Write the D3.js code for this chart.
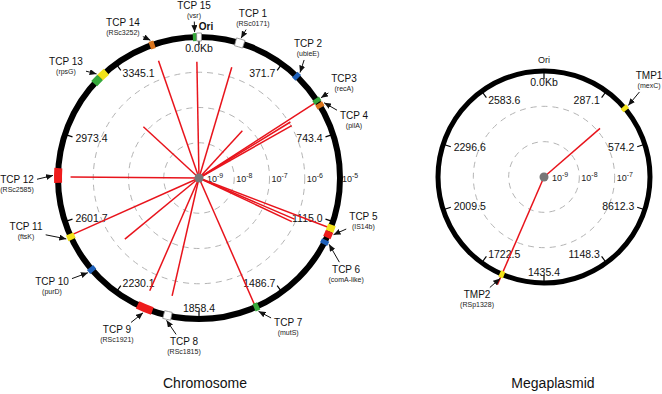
<!DOCTYPE html>
<html>
<head>
<meta charset="utf-8">
<script src="https://cdn.jsdelivr.net/npm/d3@7"></script>
<style>
  body { margin: 0; background: #fff; }
  svg { font-family: "Liberation Sans", Arial, sans-serif; }
</style>
</head>
<body>
<div id="chart"></div>
<script>
// ---------------- data ----------------
// chromosome (kb)
var chromLength = 3716.8;
var chromTicks = ["0.0Kb", "371.7", "743.4", "1115.0", "1486.7", "1858.4", "2230.1", "2601.7", "2973.4", "3345.1"];
var chromLinePos  = [3520, 3706, 170, 3228, 439, 590, 604, 625, 1145, 1189, 1170, 1614, 1991, 2102, 2380, 2539, 2792];
var chromLineFreq = [3.3e-6, 2.0e-6, 1.9e-6, 1.4e-7, 6.6e-8, 1.2e-5, 1.1e-6, 1.05e-6, 1.0e-5, 8.1e-7, 8.9e-7, 1.0e-5, 2.7e-6, 3.1e-6, 5.3e-7, 9.1e-6, 4.4e-6];
// coloured blocks on the ring
var chromSegStart = [155, 442, 576, 599, 1130, 1159, 1198, 1600, 1975, 2058, 2360, 2521, 2767, 3221, 3257, 3506, 3691, 3707];
var chromSegEnd   = [191, 462, 595, 619, 1159, 1187, 1218, 1621, 2008, 2125, 2381, 2546, 2829, 3257, 3293, 3527, 3707, 3727];
var chromSegKind  = ["white", "blue", "green", "orange", "yellow", "red", "blue", "green", "white", "red", "blue", "yellow", "red", "green", "yellow", "orange", "green", "white"];
// TCP annotations
var chromTcp  = ["TCP 1", "TCP 2", "TCP3", "TCP 4", "TCP 5", "TCP 6", "TCP 7", "TCP 8", "TCP 9", "TCP 10", "TCP 11", "TCP 12", "TCP 13", "TCP 14", "TCP 15"];
var chromGene = ["(RSc0171)", "(ubieE)", "(recA)", "(pilA)", "(IS14b)", "(comA-like)", "(mutS)", "(RSc1815)", "(RSc1921)", "(purD)", "(ftsK)", "(RSc2585)", "(rpsG)", "(RSc3252)", "(vsr)"];
var chromTcpPos = [173, 452, 585, 609, 1165, 1208, 1610, 1991, 2091, 2370, 2533, 2798, 3257, 3516, 3699];

// megaplasmid (kb)
var megaLength = 2870.8;
var megaTicks = ["0.0Kb", "287.1", "574.2", "8612.3", "1148.3", "1435.4", "1722.5", "2009.5", "2296.6", "2583.6"];
var megaLinePos  = [391, 1622];
var megaLineFreq = [1.26e-7, 2.1e-6];
var megaSegStart = [386, 1612];
var megaSegEnd   = [406, 1632];
var megaSegKind  = ["yellow", "yellow"];
var megaTcp  = ["TMP1", "TMP2"];
var megaGene = ["(mexC)", "(RSp1328)"];
var megaTcpPos = [396, 1622];

// ---------------- layout / style ----------------
var width = 662, height = 394;
var colors = {white: "#ffffff", blue: "#1d5fb8", green: "#35a83a", orange: "#d9741c", yellow: "#f2e21a", red: "#ee1c1c"};
// label placement (angle in degrees, radius in px) for the annotations
var chromLabelPlace = [[18.6, 169], [40, 169.6], [56.7, 173.5], [69.5, 165.5], [104.8, 170], [123.1, 175.6], [149.1, 173.6],
  [185.1, 168.7], [207.8, 176], [233.7, 182.4], [253, 180.9], [268.1, 182.1], [310.1, 173.9], [333.3, 169.2], [-1.7, 168.5]];
var megaLabelPlace = [[47.4, 142.7], [208.8, 139]];

var svg = d3.select("#chart")
  .append("svg")
  .attr("width", width)
  .attr("height", height);

svg.append("defs").append("marker")
  .attr("id", "arrow")
  .attr("viewBox", "0 -3 7 6")
  .attr("refX", 7)
  .attr("refY", 0)
  .attr("markerUnits", "userSpaceOnUse")
  .attr("markerWidth", 7)
  .attr("markerHeight", 6)
  .attr("orient", "auto")
  .append("path")
  .attr("d", "M0,-3L7,0L0,3Z")
  .attr("fill", "#111");

function pt(a, r) { return [r * Math.sin(a), -r * Math.cos(a)]; }

function drawGenome(opt) {
  var g = svg.append("g").attr("transform", "translate(" + opt.cx + "," + opt.cy + ")");
  var R = opt.R;
  var angle = d3.scaleLinear().domain([0, opt.length]).range([0, 2 * Math.PI]);
  var rad = d3.scaleLog().domain([1e-9, opt.maxFreq]).range([0, R]);
  var gridVals = d3.range(-9, Math.round(Math.log10(opt.maxFreq)) + 1).map(function(k) { return Math.pow(10, k); });

  // dashed grid circles
  g.selectAll("circle.grid")
    .data(gridVals.filter(function(v) { return rad(v) > 0 && rad(v) < R - 1; }))
    .enter().append("circle")
    .attr("r", function(v) { return rad(v); })
    .attr("fill", "none")
    .attr("stroke", "#b4b4b4")
    .attr("stroke-width", 1)
    .attr("stroke-dasharray", "6,5");

  // grid labels 10^k
  var gl = g.selectAll("text.glab")
    .data(gridVals.filter(function(v) { return opt.labelRing || rad(v) < R - 1; }))
    .enter().append("text")
    .attr("x", function(v) { return Math.max(rad(v), 6) + 2; })
    .attr("y", 3.5)
    .style("font-size", "9px")
    .attr("fill", "#222");
  gl.append("tspan").text("10");
  gl.append("tspan")
    .attr("dy", -4)
    .style("font-size", "7px")
    .text(function(v) { return Math.round(Math.log10(v)); });

  // ring
  g.append("circle")
    .attr("r", R)
    .attr("fill", "none")
    .attr("stroke", "#000")
    .attr("stroke-width", opt.ringW);

  // ticks and tick labels
  var tickKb = opt.ticks.map(function(t, i) { return i * opt.length / opt.ticks.length; });
  g.selectAll("line.tick")
    .data(tickKb)
    .enter().append("line")
    .attr("x1", function(d) { return pt(angle(d), R)[0]; })
    .attr("y1", function(d) { return pt(angle(d), R)[1]; })
    .attr("x2", function(d) { return pt(angle(d), R - 8)[0]; })
    .attr("y2", function(d) { return pt(angle(d), R - 8)[1]; })
    .attr("stroke", "#000")
    .attr("stroke-width", 1.2);
  g.selectAll("text.tlab")
    .data(opt.ticks)
    .enter().append("text")
    .attr("x", function(d, i) { return pt(angle(tickKb[i]), R - opt.labelIn)[0]; })
    .attr("y", function(d, i) { return pt(angle(tickKb[i]), R - opt.labelIn)[1]; })
    .attr("dy", "0.35em")
    .attr("text-anchor", function(d, i) {
      var deg = angle(tickKb[i]) * 180 / Math.PI;
      if (deg > 10 && deg < 170) return "end";
      if (deg > 190 && deg < 350) return "start";
      return "middle";
    })
    .style("font-size", "10.5px")
    .attr("fill", "#111")
    .text(function(d) { return d; });

  // red lines
  var lineData = opt.linePos.map(function(p, i) { return {pos: p, freq: opt.lineFreq[i]}; });
  g.selectAll("line.val")
    .data(lineData)
    .enter().append("line")
    .attr("x1", 0).attr("y1", 0)
    .attr("x2", function(d) { return pt(angle(d.pos), rad(d.freq))[0]; })
    .attr("y2", function(d) { return pt(angle(d.pos), rad(d.freq))[1]; })
    .attr("stroke", "#e8141c")
    .attr("stroke-width", 1.5);

  // coloured blocks on ring
  var arc = d3.arc().innerRadius(R - opt.segW).outerRadius(R + opt.segW);
  g.selectAll("path.seg")
    .data(opt.segStart.map(function(s, i) { return {s: s, e: opt.segEnd[i], k: opt.segKind[i]}; }))
    .enter().append("path")
    .attr("d", function(d) { return arc({startAngle: angle(d.s), endAngle: angle(d.e)}); })
    .attr("fill", function(d) { return colors[d.k]; })
    .attr("stroke", function(d) { return d.k == "white" ? "#888" : "none"; })
    .attr("stroke-width", 0.8);

  // centre dot
  g.append("circle").attr("r", 4.5).attr("fill", "#777");

  // annotations with arrows
  opt.tcp.forEach(function(name, i) {
    var la = opt.place[i][0] * Math.PI / 180, lr = opt.place[i][1];
    var c = pt(la, lr);
    var lg = g.append("g").attr("transform", "translate(" + c[0] + "," + c[1] + ")");
    lg.append("text")
      .attr("text-anchor", "middle")
      .attr("y", -1)
      .style("font-size", "10px")
      .attr("fill", "#111")
      .text(name);
    lg.append("text")
      .attr("text-anchor", "middle")
      .attr("y", 8)
      .style("font-size", "7px")
      .attr("fill", "#222")
      .text(opt.gene[i]);
    var bb = lg.node().getBBox();
    var hw = bb.width / 2 + 1, hh = bb.height / 2;
    var cyOff = bb.y + bb.height / 2;
    var p = pt(angle(opt.tcpPos[i]), R + opt.segW + 1);
    var vx = p[0] - c[0], vy = p[1] - (c[1] + cyOff);
    var t = Math.min(Math.abs(vx) > 0.01 ? hw / Math.abs(vx) : 99, Math.abs(vy) > 0.01 ? hh / Math.abs(vy) : 99);
    var len = Math.sqrt(vx * vx + vy * vy);
    var sx = c[0] + vx * t + vx / len * 2, sy = c[1] + cyOff + vy * t + vy / len * 2;
    g.append("line")
      .attr("x1", sx).attr("y1", sy)
      .attr("x2", p[0]).attr("y2", p[1])
      .attr("stroke", "#111")
      .attr("stroke-width", 1)
      .attr("marker-end", "url(#arrow)");
  });

  // Ori label
  g.append("text")
    .attr("x", opt.oriX)
    .attr("y", -R - opt.oriY)
    .attr("text-anchor", "middle")
    .style("font-size", opt.oriBold ? "10px" : "9px")
    .style("font-weight", opt.oriBold ? "bold" : "normal")
    .attr("fill", "#111")
    .text("Ori");

  // title
  svg.append("text")
    .attr("x", opt.titleX)
    .attr("y", 388)
    .attr("text-anchor", "middle")
    .style("font-size", "14px")
    .attr("fill", "#111")
    .text(opt.title);
}

drawGenome({
  cx: 199, cy: 178, R: 141, ringW: 6, segW: 4, labelIn: 11, maxFreq: 1e-5, labelRing: true,
  length: chromLength, ticks: chromTicks,
  linePos: chromLinePos, lineFreq: chromLineFreq,
  segStart: chromSegStart, segEnd: chromSegEnd, segKind: chromSegKind,
  tcp: chromTcp, gene: chromGene, tcpPos: chromTcpPos, place: chromLabelPlace,
  oriX: 7, oriY: 7, oriBold: true,
  title: "Chromosome", titleX: 205
});

drawGenome({
  cx: 544, cy: 177, R: 106, ringW: 5, segW: 3.5, labelIn: 11, maxFreq: 1e-6, labelRing: false,
  length: megaLength, ticks: megaTicks,
  linePos: megaLinePos, lineFreq: megaLineFreq,
  segStart: megaSegStart, segEnd: megaSegEnd, segKind: megaSegKind,
  tcp: megaTcp, gene: megaGene, tcpPos: megaTcpPos, place: megaLabelPlace,
  oriX: 0, oriY: 8, oriBold: false,
  title: "Megaplasmid", titleX: 553
});
</script>
</body>
</html>
